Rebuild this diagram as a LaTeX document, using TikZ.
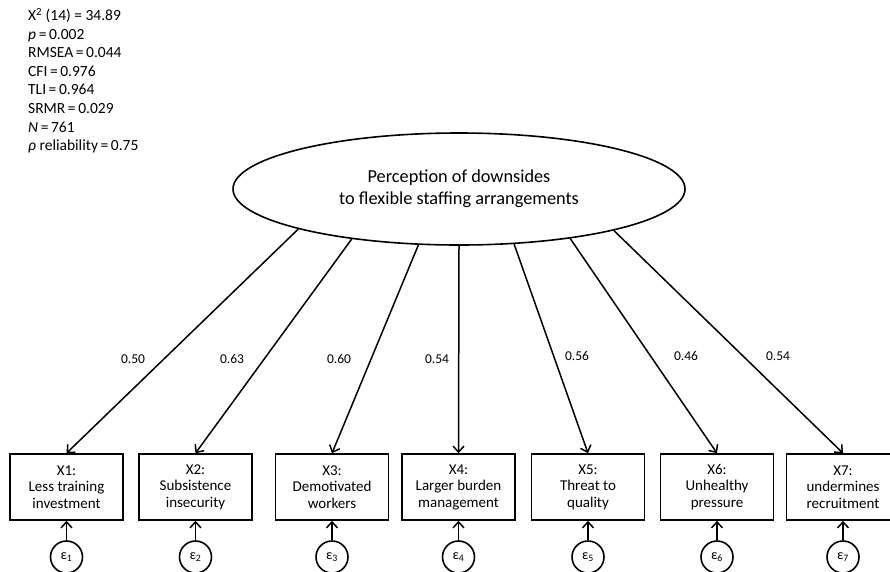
\documentclass[tikz,border=0pt]{standalone}
\usepackage{fontspec}
\setmainfont{Carlito}
\usetikzlibrary{positioning,shapes.geometric,arrows.meta}

\begin{document}
\begin{tikzpicture}[x=1pt,y=-1pt,
    latent/.style={draw,ellipse,line width=1.6pt,minimum width=452pt,minimum height=112pt,inner sep=0pt,align=center,font=\fontsize{18.3}{22}\selectfont},
    obs/.style={draw,rectangle,line width=1.6pt,minimum width=113pt,minimum height=66pt,inner sep=0pt,align=center,font=\fontsize{15}{16.5}\selectfont},
    err/.style={draw,circle,line width=1.6pt,minimum size=32pt,inner sep=0pt,font=\fontsize{14}{15}\selectfont},
    load/.style={font=\fontsize{13.5}{15}\selectfont},
    arr/.style={line width=1.5pt,-{Straight Barb[length=6pt,width=11pt]}}]

    \useasboundingbox (0,0) rectangle (890,571);

    % Fit statistics
    \foreach \i/\t in {1/X\textsuperscript{2} (14) = 34.89, 2/\textit{p}\,=\,0.002, 3/RMSEA\,=\,0.044, 4/CFI\,=\,0.976,
                       5/TLI\,=\,0.964, 6/SRMR\,=\,0.029, 7/\textit{N}\,=\,761, 8/\textit{ρ} reliability\,=\,0.75} {
      \node[anchor=base west,inner sep=0pt,font=\fontsize{15.5}{17}\selectfont] (fit\i) at (28,{20.5+18.6*(\i-1)}) {\t};
    }

    % Latent factor
    \node[latent] (lv) at (459,189) {Perception of downsides\\to flexible staffing arrangements};

    % Indicators and their errors
    \foreach \i/\x/\t in {1/66.5/{Less training\\investment}, 2/195.5/{Subsistence\\insecurity}, 3/332/{Demotivated\\workers},
                          4/458.5/{Larger burden\\management}, 5/588/{Threat to\\quality}, 6/717/{Unhealthy\\pressure},
                          7/843/{undermines\\recruitment}} {
      \node[obs] (x\i) at (\x,487) {X\i:\\\t};
      \node[err] (e\i) at (\x,557) {ε\textsubscript{\i}};
      \draw[arr] (e\i) -- (x\i);
    }

    % Loadings
    \foreach \i/\a/\v/\lx/\ly in {1/194/0.50/133/359, 2/205.2/0.63/232/359, 3/234.9/0.60/339/359, 4/270/0.54/437/359,
                                  5/315.5/0.56/577/356, 6/336.1/0.46/686/356, 7/345.9/0.54/778/356} {
      \draw[arr] (lv.\a) -- (x\i.north);
      \node[load] (l\i) at (\lx,\ly) {\v};
    }

\end{tikzpicture}
\end{document}
